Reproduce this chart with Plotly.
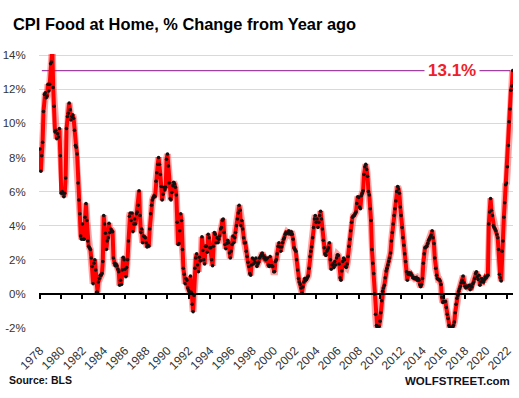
import pandas as pd
import plotly.graph_objects as go

# Monthly CPI Food at Home, % change from year ago
v1978 = [8.5, 7.2, 8.1, 8.9, 10.7, 11.7, 11.8, 11.5, 11.6, 12.3, 11.9, 12.3]
v1979 = [13.5, 13.6, 14.4, 12.1, 11.0, 9.5, 9.6, 9.1, 9.4, 9.2, 9.7, 8.1]
v1980 = [5.9, 6.0, 5.9, 5.7, 5.9, 6.8, 9.7, 10.4, 10.6, 11.2, 10.8, 10.2]
v1981 = [10.4, 10.5, 10.3, 9.6, 8.7, 8.6, 8.2, 6.5, 5.5, 4.7, 3.4, 3.2]
v1982 = [4.1, 3.2, 3.2, 4.5, 5.3, 4.3, 3.1, 2.8, 2.7, 2.6, 2.1, 1.6]
v1983 = [0.6, 1.8, 2.0, 1.4, 0.1, 0.1, 0.7, 0.9, 1.1, 1.1, 1.2, 1.9]
v1984 = [4.6, 4.1, 3.55, 2.6, 3.1, 3.3, 4.15, 3.6, 3.8, 3.7, 3.65, 2.1]
v1985 = [1.8, 1.65, 1.75, 1.65, 1.45, 1.3, 0.5, 0.8, 0.55, 1.4, 2.15, 2.0]
v1986 = [1.45, 1.0, 1.55, 2.0, 3.1, 4.55, 4.75, 4.3, 4.75, 3.65, 4.1, 4.4]
v1987 = [4.1, 4.7, 4.8, 5.2, 6.05, 4.6, 3.6, 3.8, 3.0, 3.4, 3.35, 3.3]
v1988 = [3.0, 2.75, 2.85, 2.8, 3.8, 4.7, 5.2, 5.5, 5.65, 5.75, 5.7, 6.6]
v1989 = [7.1, 7.6, 8.0, 7.6, 7.0, 6.3, 5.5, 5.85, 6.25, 6.1, 6.25, 7.9]
v1990 = [8.2, 7.5, 6.5, 5.6, 5.5, 5.95, 6.35, 6.55, 6.45, 6.25, 5.8, 4.2]
v1991 = [2.9, 2.95, 3.7, 4.7, 4.3, 2.6, 1.5, 1.15, 0.6, 0.9, 0.8, 0.35]
v1992 = [0.2, 0.1, 1.05, 0.1, -0.6, -1.05, -0.1, 1.5, 2.1, 2.35, 1.7, 1.3]
v1993 = [2.15, 1.95, 1.95, 3.35, 2.55, 2.0, 1.75, 2.8, 2.8, 2.45, 3.5, 3.3]
v1994 = [2.7, 2.7, 2.0, 1.65, 2.8, 3.6, 3.5, 3.0, 3.3, 3.0, 3.2, 3.4]
v1995 = [3.8, 3.9, 4.3, 4.4, 3.6, 2.9, 2.65, 2.95, 3.15, 3.0, 2.4, 2.1]
v1996 = [2.5, 2.9, 3.4, 3.0, 3.3, 3.6, 4.0, 4.4, 4.75, 5.2, 4.9, 4.0]
v1997 = [4.3, 3.8, 3.3, 3.0, 3.0, 2.5, 2.2, 1.85, 1.6, 1.2, 1.1, 1.7]
v1998 = [2.1, 1.75, 2.0, 1.85, 2.1, 1.6, 1.75, 1.85, 2.1, 2.2, 2.3, 2.4]
v1999 = [2.25, 2.1, 2.15, 2.0, 2.05, 2.1, 1.7, 1.6, 2.2, 1.65, 1.65, 1.6]
v2000 = [1.3, 1.3, 1.9, 2.0, 2.35, 2.8, 3.0, 2.75, 2.5, 2.75, 3.0, 3.2]
v2001 = [3.3, 3.5, 3.6, 3.6, 3.55, 3.7, 3.6, 3.5, 3.65, 3.5, 3.2, 2.7]
v2002 = [2.6, 2.5, 2.0, 1.4, 0.9, 0.7, 0.55, 0.35, 0.05, 0.4, 0.7, 0.9]
v2003 = [0.8, 0.85, 0.95, 1.05, 1.5, 2.2, 2.5, 2.75, 3.3, 3.9, 4.4, 4.6]
v2004 = [4.2, 4.4, 3.9, 4.2, 4.6, 4.85, 4.4, 3.8, 3.15, 2.7, 2.35, 2.25]
v2005 = [2.5, 2.6, 2.7, 3.0, 2.0, 1.45, 1.7, 1.75, 1.55, 1.9, 1.7, 2.1]
v2006 = [2.3, 2.25, 1.75, 0.95, 0.8, 1.35, 1.9, 2.1, 2.0, 1.6, 1.55, 1.75]
v2007 = [2.2, 2.8, 3.2, 3.7, 4.2, 4.5, 4.57, 4.6, 4.7, 4.8, 5.3, 5.7]
v2008 = [5.65, 5.1, 5.0, 5.75, 5.9, 6.05, 7.0, 7.45, 7.6, 7.3, 6.9, 6.0]
v2009 = [5.8, 5.0, 4.3, 2.6, 1.8, 1.2, 0.0, -1.2, -1.85, -2.0, -2.0, -1.9]
v2010 = [-1.6, -1.1, -0.4, 0.15, 0.35, 0.5, 0.95, 1.35, 1.5, 1.7, 1.9, 2.1]
v2011 = [2.4, 3.1, 3.6, 4.1, 4.6, 5.0, 5.45, 6.0, 6.3, 6.15, 5.9, 5.1]
v2012 = [4.6, 3.9, 3.3, 2.85, 2.35, 1.9, 1.3, 0.8, 1.15, 1.25, 1.15, 1.2]
v2013 = [1.1, 0.95, 0.95, 0.9, 0.95, 0.95, 0.8, 0.9, 0.8, 0.55, 0.42, 0.55]
v2014 = [0.9, 1.8, 2.35, 2.7, 2.75, 2.8, 2.95, 3.15, 3.25, 3.35, 3.45, 3.7]
v2015 = [3.3, 2.95, 2.1, 1.5, 1.1, 0.9, 0.85, 0.85, 0.75, 0.55, -0.2, -0.5]
v2016 = [-0.45, -0.45, -0.45, -0.8, -1.2, -1.45, -1.85, -2.0, -2.0, -1.97, -1.95, -1.85]
v2017 = [-1.65, -1.1, -0.6, -0.25, -0.1, 0.15, 0.3, 0.45, 0.65, 0.8, 1.05, 0.65]
v2018 = [0.45, 0.35, 0.45, 0.4, 0.45, 0.5, 0.25, 0.45, 0.4, 0.6, 0.7, 0.9]
v2019 = [1.2, 1.3, 1.0, 0.85, 1.1, 0.5, 0.7, 0.9, 0.75, 0.7, 0.85, 1.0]
v2020 = [0.95, 1.05, 1.1, 4.1, 4.8, 5.6, 4.9, 4.6, 4.0, 3.9, 3.8, 3.7]
v2021 = [3.5, 3.3, 2.6, 1.15, 0.95, 0.75, 2.5, 3.1, 4.5, 5.35, 6.4, 6.5]
v2022 = [7.45, 8.7, 10.1, 10.85, 11.95, 12.2, 13.1]

latest_value = 13.1
latest_label = "13.1%"
tick_years = list(range(1978, 2023, 2))
tick_labels = [str(y) for y in tick_years]
y_ticks = [-2, 0, 2, 4, 6, 8, 10, 12, 14]
y_labels = ["-2%", "0%", "2%", "4%", "6%", "8%", "10%", "12%", "14%"]

values = (v1978 + v1979 + v1980 + v1981 + v1982 + v1983 + v1984 + v1985 + v1986 + v1987
          + v1988 + v1989 + v1990 + v1991 + v1992 + v1993 + v1994 + v1995 + v1996 + v1997
          + v1998 + v1999 + v2000 + v2001 + v2002 + v2003 + v2004 + v2005 + v2006 + v2007
          + v2008 + v2009 + v2010 + v2011 + v2012 + v2013 + v2014 + v2015 + v2016 + v2017
          + v2018 + v2019 + v2020 + v2021 + v2022)
dates = pd.date_range("1978-01-01", periods=len(values), freq="MS")
tick_dates = [pd.Timestamp(f"{y}-01-01") for y in tick_years]

FONT = "Liberation Sans"
x_range = ["1977-11-28", "2022-07-12"]
y_range = [-2, 14.07]

fig = go.Figure()
# soft halo
fig.add_trace(go.Scatter(x=dates, y=values, mode="lines",
                         line=dict(color="rgba(255,0,0,0.35)", width=7),
                         hoverinfo="skip", showlegend=False))
fig.add_trace(go.Scatter(x=dates, y=values, mode="lines+markers",
                         line=dict(color="#FF0000", width=4),
                         marker=dict(color="#111111", size=3.5),
                         showlegend=False))
# dummy trace for the zero axis
fig.add_trace(go.Scatter(x=[dates[0]], y=[0], xaxis="x2", mode="markers",
                         marker=dict(opacity=0), hoverinfo="skip", showlegend=False))

fig.add_shape(type="line", xref="paper", yref="y", x0=0.006, x1=0.994,
              y0=latest_value, y1=latest_value,
              line=dict(color="#A040A0", width=1.3), layer="below")

fig.add_annotation(x=0.871, xref="paper", y=latest_value, yref="y",
                   text=latest_label, showarrow=False, bgcolor="white", borderpad=3,
                   font=dict(family=FONT, size=17, color="#F0202A", weight="bold"),
                   xanchor="center", yanchor="middle")

fig.add_annotation(x=-0.0669, xref="paper", y=-0.19, yref="paper",
                   text="<b>Source: BLS</b>", showarrow=False,
                   font=dict(family=FONT, size=10.5, color="#111111"),
                   xanchor="left", yanchor="middle")
fig.add_annotation(x=0.9985, xref="paper", y=-0.192, yref="paper",
                   text="<b>WOLFSTREET.com</b>", showarrow=False,
                   font=dict(family=FONT, size=11.5, color="#111122"),
                   xanchor="right", yanchor="middle")

fig.update_layout(
    width=519, height=398,
    margin=dict(l=39, r=6, t=54, b=70, autoexpand=False),
    paper_bgcolor="white", plot_bgcolor="white",
    hovermode=False,
    title=dict(text="<b>CPI Food at Home, % Change from Year ago</b>",
               x=13 / 519, xref="container", xanchor="left",
               y=1 - 24.5 / 398, yref="container", yanchor="middle",
               font=dict(family=FONT, size=16.4, color="#000000")),
    xaxis=dict(type="date", range=x_range, tickmode="array", tickvals=tick_dates,
               ticktext=tick_labels, tickangle=-45, showgrid=False, showline=False,
               zeroline=False, ticks="outside", ticklen=10, tickcolor="rgba(0,0,0,0)",
               automargin=False,
               tickfont=dict(family=FONT, size=12, color="#333333")),
    xaxis2=dict(type="date", range=x_range, overlaying="x", anchor="free",
                position=2 / (y_range[1] - y_range[0]), side="bottom",
                tickmode="array", tickvals=tick_dates, showticklabels=False,
                showgrid=False, zeroline=False, showline=True, linecolor="#000000",
                linewidth=1.5, ticks="outside", ticklen=4, tickwidth=1.5,
                tickcolor="#000000", automargin=False),
    yaxis=dict(range=y_range, tickmode="array", tickvals=y_ticks, ticktext=y_labels,
               showgrid=True, gridcolor="#D9D9D9", gridwidth=1, zeroline=False,
               showline=False, ticks="outside", ticklen=10, tickcolor="rgba(0,0,0,0)",
               automargin=False,
               tickfont=dict(family=FONT, size=11.5, color="#333333")),
)

fig.write_html("out.html", config={"displayModeBar": False},
               post_script="document.body.style.margin='0';document.body.style.overflow='hidden';")
